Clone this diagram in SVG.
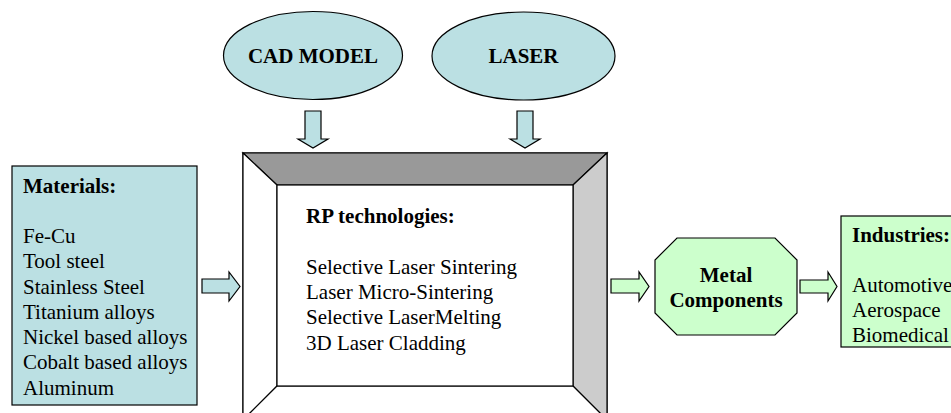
<svg xmlns="http://www.w3.org/2000/svg" width="951" height="413" viewBox="0 0 951 413">
<style>
.ln{stroke:#000;stroke-width:1.2;stroke-linejoin:miter}
.blue{fill:#BBE0E3}
.green{fill:#CCFFCC}
text{font-family:'Liberation Serif','Times New Roman',Times,'DejaVu Serif',serif;font-size:21px;fill:#000}
.b{font-weight:bold}
</style>
<rect width="951" height="413" fill="#fff"/>
<g id="connectors">
<path class="ln blue" d="M305,111 H321 V139 H328 L313,148 L298,139 H305 Z"/>
<path class="ln blue" d="M517,111 H533 V139 H540 L525,148 L510,139 H517 Z"/>
<path class="ln blue" d="M202,279 H229 V272 L240,286.5 L229,301 V293 H202 Z"/>
<path class="ln green" d="M611,279 H639 V272 L649,286.5 L639,301 V293 H611 Z"/>
<path class="ln green" d="M800,280 H828 V272 L837,286.5 L828,301 V293 H800 Z"/>
</g>
<g id="cad">
<ellipse class="ln blue" cx="313" cy="55.5" rx="89.5" ry="44"/>
<text class="b" x="313" y="63" text-anchor="middle">CAD MODEL</text>
</g>
<g id="laser">
<ellipse class="ln blue" cx="523.5" cy="56" rx="91.5" ry="44"/>
<text class="b" x="523.5" y="63" text-anchor="middle">LASER</text>
</g>
<g id="materials">
<rect class="ln blue" x="12" y="166" width="185" height="239"/>
<text class="b" x="23" y="193">Materials:</text>
<text x="23" y="243">Fe-Cu</text>
<text x="23" y="268.3">Tool steel</text>
<text x="23" y="293.5">Stainless Steel</text>
<text x="23" y="318.8">Titanium alloys</text>
<text x="23" y="344">Nickel based alloys</text>
<text x="23" y="369.3">Cobalt based alloys</text>
<text x="23" y="394.5">Aluminum</text>
</g>
<g id="rp">
<rect class="ln" x="243" y="153" width="364" height="267" fill="#fff"/>
<path class="ln" d="M243,153 H607 L573,185 H277 Z" fill="#999999"/>
<path class="ln" d="M607,153 V420 L573,386 V185 Z" fill="#CCCCCC"/>
<path class="ln" d="M243,153 L277,185 V386 L243,420 Z" fill="#fff"/>
<path class="ln" d="M277,386 H573 L607,420 H243 Z" fill="#fff"/>
<rect class="ln" x="277" y="185" width="296" height="201" fill="#fff"/>
<text class="b" x="306" y="223">RP technologies:</text>
<text x="306" y="274">Selective Laser Sintering</text>
<text x="306" y="299.2">Laser Micro-Sintering</text>
<text x="306" y="324.3">Selective LaserMelting</text>
<text x="306" y="349.5">3D Laser Cladding</text>
</g>
<g id="metal">
<path class="ln green" d="M677,238 H775 L797,260 V313 L775,335 H677 L655,313 V260 Z"/>
<text class="b" x="726" y="282" text-anchor="middle">Metal</text>
<text class="b" x="726" y="307" text-anchor="middle">Components</text>
</g>
<g id="industries">
<rect class="ln green" x="841" y="216" width="130" height="131"/>
<text class="b" x="852" y="241.5">Industries:</text>
<text x="852" y="291.5">Automotive</text>
<text x="852" y="316.5">Aerospace</text>
<text x="852" y="341.5">Biomedical</text>
</g>
</svg>
